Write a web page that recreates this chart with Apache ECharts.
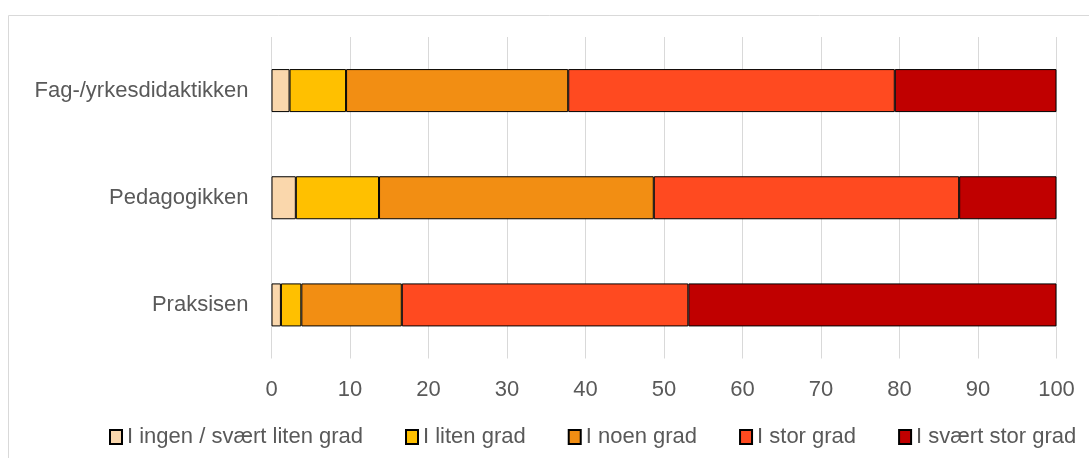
<!DOCTYPE html>
<html><head><meta charset="utf-8">
<script src="https://cdn.jsdelivr.net/npm/echarts@6/dist/echarts.min.js"></script>
<style>html,body{margin:0;padding:0;background:#fff}#c{width:1089px;height:458px}</style>
</head><body><div id="c"></div>
<script>
const categories = ['Fag-/yrkesdidaktikken', 'Pedagogikken', 'Praksisen'];
const seriesNames = ['I ingen / svært liten grad', 'I liten grad', 'I noen grad', 'I stor grad', 'I svært stor grad'];
const ingen = [2.3, 3.1, 1.2];
const liten = [7.2, 10.6, 2.6];
const noen = [28.3, 35.0, 12.8];
const stor = [41.6, 38.9, 36.5];
const sværtStor = [20.6, 12.4, 46.9];
const xTicks = [0, 10, 20, 30, 40, 50, 60, 70, 80, 90, 100];
const colors = ['#FAD7AC', '#FFC000', '#F28E13', '#FF4A20', '#C00000'];

const values = [ingen, liten, noen, stor, sværtStor];
const font = "'Liberation Sans', Arial, sans-serif";
const chart = echarts.init(document.getElementById('c'), null, {renderer: 'canvas'});
chart.setOption({
  animation: false,
  textStyle: {fontFamily: font},
  graphic: [{type: 'rect', shape: {x: 8.5, y: 15.5, width: 1200, height: 600}, style: {fill: 'none', stroke: '#d9d9d9', lineWidth: 1}, silent: true, z: -10}],
  grid: {left: 271.5, right: 32.5, top: 37, height: 321.5},
  legend: {
    bottom: 5, left: 104, itemWidth: 12, itemHeight: 14, itemGap: 42,
    icon: 'rect',
    textStyle: {fontSize: 22, color: '#595959', fontFamily: font},
    data: seriesNames
  },
  xAxis: {
    type: 'value', min: xTicks[0], max: xTicks[xTicks.length - 1], interval: 10,
    axisLine: {show: false}, axisTick: {show: false},
    axisLabel: {fontSize: 22, color: '#595959', margin: 20, fontFamily: font},
    splitLine: {lineStyle: {color: '#d9d9d9', width: 1}}
  },
  yAxis: {
    type: 'category', data: categories, inverse: true,
    axisLine: {show: false}, axisTick: {show: false},
    axisLabel: {fontSize: 22, color: '#595959', margin: 23, fontFamily: font}
  },
  series: seriesNames.map((n, i) => ({
    name: n, type: 'bar', stack: 'total', barWidth: 43,
    data: values[i],
    itemStyle: {color: colors[i], borderColor: '#000', borderWidth: 1}
  }))
});
</script></body></html>
